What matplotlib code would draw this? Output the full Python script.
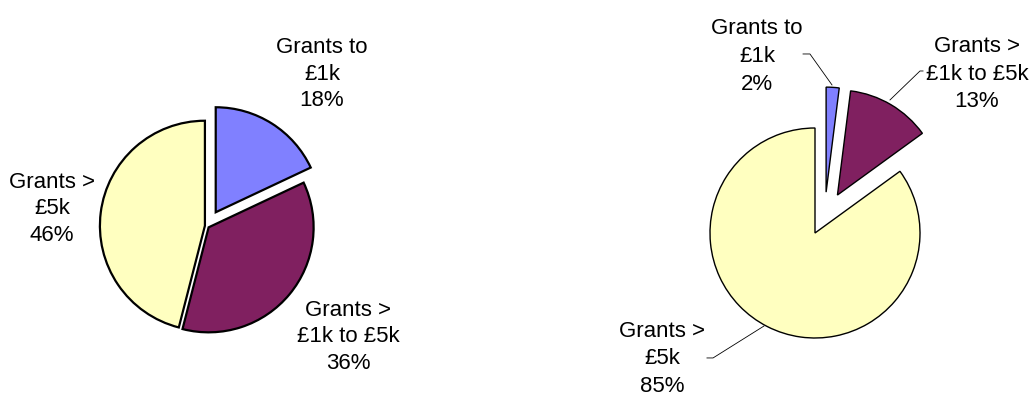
import matplotlib
matplotlib.use('Agg')
import matplotlib.pyplot as plt

plt.rcParams['font.family'] = ['Liberation Sans', 'DejaVu Sans']

categories = ['Grants to\n£1k', 'Grants >\n£1k to £5k', 'Grants >\n£5k']
left_pct = [18, 36, 46]
right_pct = [2, 13, 85]
colors = ['#8080FF', '#802060', '#FFFFC0']

R = 105.0  # pie radius in pixels
W, H = 1029, 398

fig = plt.figure(figsize=(W / 100, H / 100), dpi=100)

# left pie
ax1 = fig.add_axes([0, 0, 0.5, 1])
ax1.pie(left_pct, colors=colors, startangle=90, counterclock=False,
        explode=[0.155, 0.02, 0.02],
        wedgeprops=dict(edgecolor='black', linewidth=1.6))
ax1.set_xlim(-207 / R, (514.5 - 207) / R)
ax1.set_ylim(-172 / R, (398 - 172) / R)
ax1.set_aspect('auto')
ax1.axis('off')

left_label_pos = [(1.095, 1.447), (1.343, -1.057), (-1.476, 0.162)]
for name, p, (x, y) in zip(categories, left_pct, left_label_pos):
    ax1.text(x, y, f'{name}\n{p}%', ha='center', va='center',
             fontsize=16, linespacing=1.37)

# right pie
ax2 = fig.add_axes([0.5, 0, 0.5, 1])
wedges, _ = ax2.pie(right_pct, colors=colors, startangle=90, counterclock=False,
                    explode=[0.41, 0.42, 0.0],
                    wedgeprops=dict(edgecolor='black', linewidth=1.0))
# the small slice sits a bit further right in the original
cx, cy = wedges[0].center
wedges[0].set_center((cx + 0.08, cy - 0.02))
ax2.set_xlim(-300.5 / R, (514.5 - 300.5) / R)
ax2.set_ylim(-165 / R, (398 - 165) / R)
ax2.set_aspect('auto')
ax2.axis('off')

right_label_pos = [(-0.552, 1.68), (1.543, 1.514), (-1.457, -1.2)]
for name, p, (x, y) in zip(categories, right_pct, right_label_pos):
    ax2.text(x, y, f'{name}\n{p}%', ha='center', va='center',
             fontsize=16, linespacing=1.42)

# leader lines: start, kink, end
leaders = [
    [(-0.114, 1.705), (-0.048, 1.705), (0.162, 1.41)],
    [(1.029, 1.543), (1.0, 1.543), (0.714, 1.267)],
    [(-1.029, -1.19), (-0.971, -1.19), (-0.486, -0.886)],
]
for pts in leaders:
    xs = [p[0] for p in pts]
    ys = [p[1] for p in pts]
    ax2.plot(xs, ys, color='black', linewidth=0.6)

fig.savefig('out.png', dpi=100, facecolor='white')
